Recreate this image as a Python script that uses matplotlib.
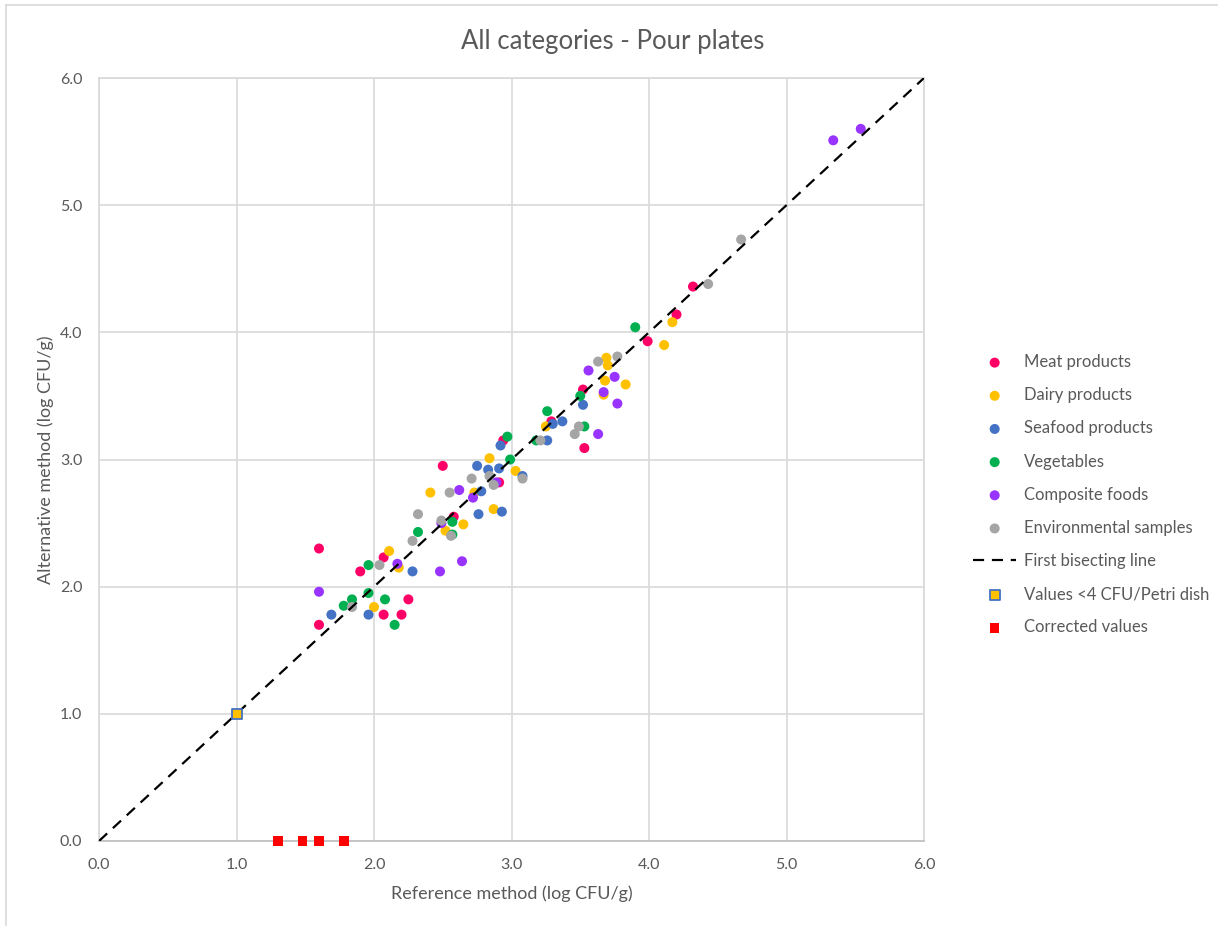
import matplotlib.pyplot as plt
from matplotlib.lines import Line2D

plt.rcParams.update({
    "font.family": ["Lato", "DejaVu Sans"],
    "figure.facecolor": "white",
    "axes.facecolor": "white",
    "text.color": "#595959",
    "xtick.color": "#595959",
    "ytick.color": "#595959",
})

# Daten (log CFU/g)
meat_x = [1.60, 1.60, 1.90, 2.07, 2.07, 2.20, 2.25, 2.50, 2.58, 2.91, 2.94, 3.29, 3.52, 3.53, 3.99, 4.20, 4.32]
meat_y = [2.30, 1.70, 2.12, 2.23, 1.78, 1.78, 1.90, 2.95, 2.55, 2.82, 3.15, 3.30, 3.55, 3.09, 3.93, 4.14, 4.36]

dairy_x = [2.11, 2.18, 2.00, 2.41, 2.52, 2.65, 2.73, 2.84, 2.87, 3.03, 3.25, 3.68, 3.69, 3.70, 3.67, 3.83, 4.11, 4.17]
dairy_y = [2.28, 2.15, 1.84, 2.74, 2.44, 2.49, 2.74, 3.01, 2.61, 2.91, 3.26, 3.62, 3.80, 3.74, 3.51, 3.59, 3.90, 4.08]

seafood_x = [1.69, 1.96, 2.28, 2.75, 2.83, 2.91, 2.78, 2.76, 2.93, 2.92, 3.08, 3.26, 3.30, 3.37, 3.52]
seafood_y = [1.78, 1.78, 2.12, 2.95, 2.92, 2.93, 2.75, 2.57, 2.59, 3.11, 2.87, 3.15, 3.28, 3.30, 3.43]

veg_x = [1.96, 1.84, 1.78, 1.96, 2.08, 2.15, 2.32, 2.57, 2.57, 2.99, 2.97, 3.18, 3.26, 3.53, 3.50, 3.90]
veg_y = [2.17, 1.90, 1.85, 1.95, 1.90, 1.70, 2.43, 2.51, 2.41, 3.00, 3.18, 3.15, 3.38, 3.26, 3.50, 4.04]

comp_x = [1.60, 2.17, 2.48, 2.64, 2.49, 2.62, 2.72, 2.89, 3.56, 3.75, 3.67, 3.77, 3.63, 5.34, 5.54]
comp_y = [1.96, 2.18, 2.12, 2.20, 2.50, 2.76, 2.70, 2.82, 3.70, 3.65, 3.53, 3.44, 3.20, 5.51, 5.60]

env_x = [1.84, 2.04, 2.28, 2.32, 2.49, 2.55, 2.56, 2.71, 2.87, 2.84, 3.08, 3.21, 3.46, 3.49, 3.63, 3.77, 4.43, 4.67]
env_y = [1.84, 2.17, 2.36, 2.57, 2.52, 2.74, 2.40, 2.85, 2.80, 2.87, 2.85, 3.15, 3.20, 3.26, 3.77, 3.81, 4.38, 4.73]

low_x = [1.0]
low_y = [1.0]

corr_x = [1.30, 1.48, 1.60, 1.78]
corr_y = [0.0, 0.0, 0.0, 0.0]

bisect = [0.0, 6.0]

fig = plt.figure(figsize=(12.18, 9.26), dpi=100)
ax = fig.add_axes([99 / 1218, 85 / 926, 825 / 1218, 763 / 926])

series = [
    ("Meat products", meat_x, meat_y, "#FF0066"),
    ("Dairy products", dairy_x, dairy_y, "#FFC000"),
    ("Seafood products", seafood_x, seafood_y, "#4472C4"),
    ("Vegetables", veg_x, veg_y, "#00B050"),
    ("Composite foods", comp_x, comp_y, "#9933FF"),
    ("Environmental samples", env_x, env_y, "#A5A5A5"),
]

for label, xs, ys, col in series:
    ax.scatter(xs, ys, s=52, color=col, edgecolor="none", zorder=3, label=label)

ax.plot(bisect, bisect, color="black", linestyle=(0, (5, 3.5)), linewidth=1.6,
        zorder=4, label="First bisecting line")
ax.scatter(low_x, low_y, s=55, marker="s", color="#FFC000", edgecolor="#4472C4",
           linewidth=1.3, zorder=5, label="Values <4 CFU/Petri dish")
ax.scatter(corr_x, corr_y, s=48, marker="s", color="#FF0000", edgecolor="none",
           zorder=5, label="Corrected values", clip_on=False)

ax.set_xlim(0, 6)
ax.set_ylim(0, 6)
ticks = [0, 1, 2, 3, 4, 5, 6]
ax.set_xticks(ticks, labels=[f"{t:.1f}" for t in ticks])
ax.set_yticks(ticks, labels=[f"{t:.1f}" for t in ticks])
ax.tick_params(length=0, labelsize=11.5, pad=12)
ax.grid(True, color="#D9D9D9", linewidth=1.2, zorder=0)
ax.set_axisbelow(True)
for name, spine in ax.spines.items():
    spine.set_color("#D9D9D9")
    spine.set_linewidth(1.2)
ax.spines["bottom"].set_color("#BFBFBF")

ax.set_xlabel("Reference method (log CFU/g)", fontsize=13, color="#595959", labelpad=10)
ax.set_ylabel("Alternative method (log CFU/g)", fontsize=13, color="#595959", labelpad=4)
fig.text(613 / 1218, 1 - 41 / 926, "All categories - Pour plates", ha="center",
         va="center", fontsize=18.5, color="#595959")

leg = ax.legend(loc="upper left", bbox_to_anchor=(958 / 1218, 1 - 339 / 926),
                bbox_transform=fig.transFigure, frameon=False, fontsize=12,
                labelspacing=1.03, handlelength=2.6, handletextpad=0.45,
                labelcolor="#595959")

# Rahmen des Diagrammbereichs (oben und links sichtbar)
fig.add_artist(Line2D([6 / 1218, 1], [1 - 5 / 926, 1 - 5 / 926], color="#D9D9D9",
                      linewidth=1.2, transform=fig.transFigure))
fig.add_artist(Line2D([6 / 1218, 6 / 1218], [0, 1 - 5 / 926], color="#D9D9D9",
                      linewidth=1.2, transform=fig.transFigure))

fig.savefig("out.png", dpi=100)
